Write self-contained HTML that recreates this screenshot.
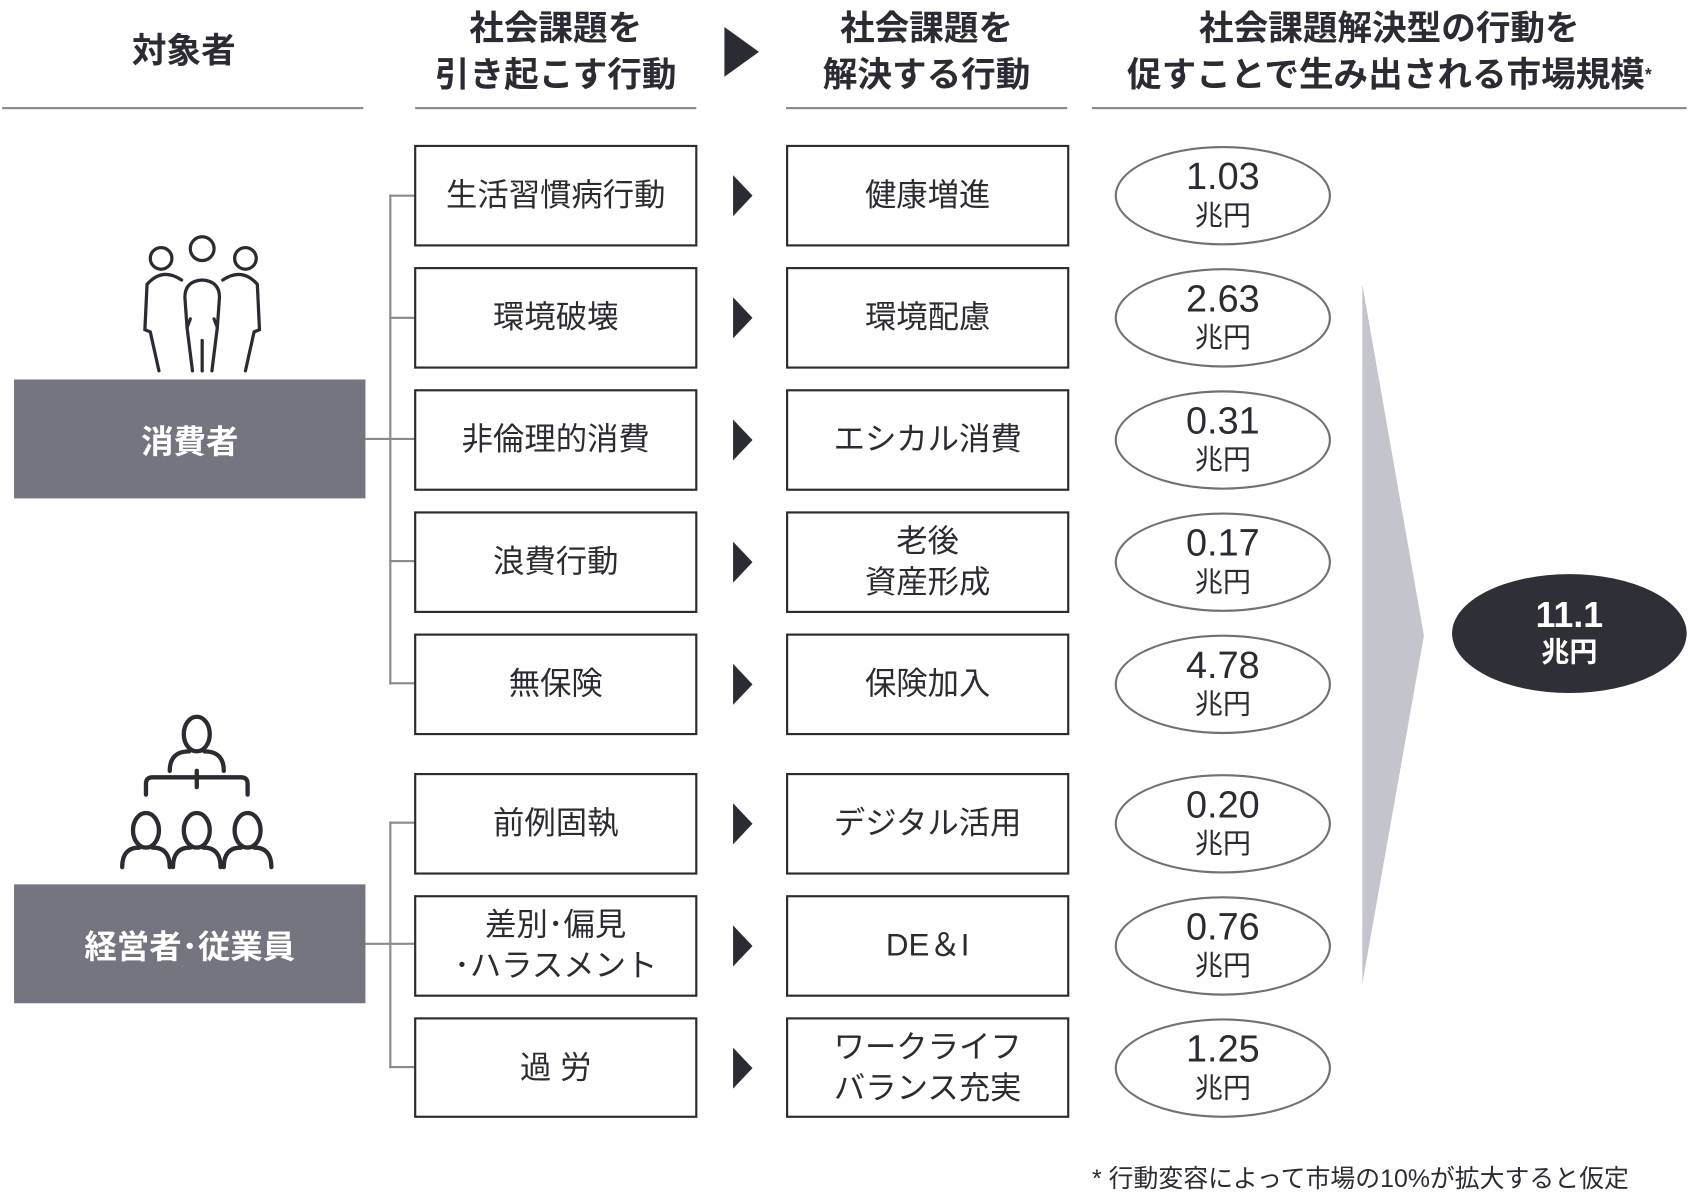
<!DOCTYPE html>
<html><head><meta charset="utf-8"><style>
html,body{margin:0;padding:0;background:#fff;}
body{width:1692px;height:1200px;overflow:hidden;position:relative;}
#w{position:absolute;left:0;top:0;width:1565px;height:1110px;transform:scale(1.0812,1.0811);transform-origin:0 0;font-family:"Liberation Sans","Noto Sans CJK JP",sans-serif;color:#2b2b33;}
.a{position:absolute;}
.h{position:absolute;text-align:center;font-weight:bold;font-size:32px;line-height:43px;color:#2b2b33;}
.ul{position:absolute;top:99px;height:2px;background:#8a8a92;}
.bx{position:absolute;box-sizing:border-box;border:2px solid #2b2b33;display:flex;align-items:center;justify-content:center;text-align:center;font-size:29px;line-height:38px;}
.el{position:absolute;box-sizing:border-box;width:200px;height:92px;border:2px solid #707078;border-radius:50%;text-align:center;}
.el .n{font-size:35px;line-height:38px;margin-top:8px;}
.el .u{font-size:26px;line-height:32px;}
.tr{position:absolute;width:0;height:0;border-top:19px solid transparent;border-bottom:19px solid transparent;border-left:18px solid #2b2b33;}
.gb{position:absolute;background:#75757f;color:#fff;font-weight:bold;font-size:30px;display:flex;align-items:center;justify-content:center;}
.ln{position:absolute;background:#8a8a92;}
</style></head><body><div id="w">
<div class="h" style="left:60px;top:26px;width:220px;">対象者</div>
<div class="h" style="left:374px;top:5px;width:280px;">社会課題を<br>引き起こす行動</div>
<div class="h" style="left:717px;top:5px;width:280px;">社会課題を<br>解決する行動</div>
<div class="h" style="left:1000px;top:5px;width:570px;">社会課題解決型の行動を<br>促すことで生み出される市場規模<span style="font-size:16px;vertical-align:top;">*</span></div>
<div class="a" style="left:670px;top:25px;width:0;height:0;border-top:23px solid transparent;border-bottom:23px solid transparent;border-left:32px solid #2b2b33;"></div>
<div class="ul" style="left:2px;width:334px;"></div>
<div class="ul" style="left:384px;width:260px;"></div>
<div class="ul" style="left:727px;width:260px;"></div>
<div class="ul" style="left:1010px;width:550px;"></div>

<svg class="a" style="left:120px;top:215px;" width="135" height="135" viewBox="0 0 135 135" fill="none" stroke="#2b2b33" stroke-width="3" stroke-linecap="round">
<circle cx="29" cy="24" r="10"/><circle cx="67" cy="15" r="11"/><circle cx="107" cy="24" r="10"/>
<path d="M48 44 Q30 32 16 48 L14 90 L19 92 L27 128"/><path d="M86 44 Q104 32 118 48 L120 90 L115 92 L107 128"/>
<path d="M58 128 L53 88 L51 60 Q51 45 67 44 Q83 45 83 60 L81 88 L76 128"/><path d="M67 100 L67 128"/><path d="M53 88 L56 80"/><path d="M81 88 L78 80"/>
</svg>
<svg class="a" style="left:100px;top:655px;" width="165" height="150" viewBox="0 0 165 150" fill="none" stroke="#2b2b33" stroke-width="4" stroke-linecap="round">
<ellipse cx="82" cy="24" rx="12" ry="16"/><path d="M57 58 Q57 40 75 40 M107 58 Q107 40 89 40"/>
<path d="M35 80 L35 70 Q35 64 41 64 L123 64 Q129 64 129 70 L129 80 M82 58 L82 73"/>
<ellipse cx="35" cy="113" rx="12" ry="16"/><path d="M13 147 Q13 129 29 129 M57 147 Q57 129 41 129"/>
<ellipse cx="82" cy="113" rx="12" ry="16"/><path d="M60 147 Q60 129 76 129 M104 147 Q104 129 88 129"/>
<ellipse cx="129" cy="113" rx="12" ry="16"/><path d="M107 147 Q107 129 123 129 M151 147 Q151 129 135 129"/>
</svg>

<div class="gb" style="left:13px;top:351px;width:325px;height:110px;">消費者</div>
<div class="gb" style="left:13px;top:818px;width:325px;height:110px;">経営者･従業員</div>

<div class="ln" style="left:360px;top:180px;width:2px;height:453px;"></div>
<div class="ln" style="left:338px;top:405px;width:23px;height:2px;"></div>
<div class="ln" style="left:360px;top:180px;width:24px;height:2px;"></div>
<div class="ln" style="left:360px;top:293px;width:24px;height:2px;"></div>
<div class="ln" style="left:360px;top:405px;width:24px;height:2px;"></div>
<div class="ln" style="left:360px;top:518px;width:24px;height:2px;"></div>
<div class="ln" style="left:360px;top:631px;width:24px;height:2px;"></div>
<div class="ln" style="left:360px;top:760px;width:2px;height:228px;"></div>
<div class="ln" style="left:338px;top:872px;width:23px;height:2px;"></div>
<div class="ln" style="left:360px;top:760px;width:24px;height:2px;"></div>
<div class="ln" style="left:360px;top:872px;width:24px;height:2px;"></div>
<div class="ln" style="left:360px;top:986px;width:24px;height:2px;"></div>

<div class="bx" style="left:383px;top:134px;width:262px;height:94px;">生活習慣病行動</div>
<div class="bx" style="left:383px;top:247px;width:262px;height:94px;">環境破壊</div>
<div class="bx" style="left:383px;top:360px;width:262px;height:94px;">非倫理的消費</div>
<div class="bx" style="left:383px;top:473px;width:262px;height:94px;">浪費行動</div>
<div class="bx" style="left:383px;top:586px;width:262px;height:94px;">無保険</div>
<div class="bx" style="left:383px;top:715px;width:262px;height:94px;">前例固執</div>
<div class="bx" style="left:383px;top:828px;width:262px;height:94px;">差別･偏見<br>･ハラスメント</div>
<div class="bx" style="left:383px;top:941px;width:262px;height:93px;">過 労</div>

<div class="tr" style="left:678px;top:162px;"></div>
<div class="tr" style="left:678px;top:275px;"></div>
<div class="tr" style="left:678px;top:388px;"></div>
<div class="tr" style="left:678px;top:501px;"></div>
<div class="tr" style="left:678px;top:614px;"></div>
<div class="tr" style="left:678px;top:743px;"></div>
<div class="tr" style="left:678px;top:856px;"></div>
<div class="tr" style="left:678px;top:969px;"></div>

<div class="bx" style="left:727px;top:134px;width:262px;height:94px;">健康増進</div>
<div class="bx" style="left:727px;top:247px;width:262px;height:94px;">環境配慮</div>
<div class="bx" style="left:727px;top:360px;width:262px;height:94px;">エシカル消費</div>
<div class="bx" style="left:727px;top:473px;width:262px;height:94px;">老後<br>資産形成</div>
<div class="bx" style="left:727px;top:586px;width:262px;height:94px;">保険加入</div>
<div class="bx" style="left:727px;top:715px;width:262px;height:94px;">デジタル活用</div>
<div class="bx" style="left:727px;top:828px;width:262px;height:94px;">DE＆I</div>
<div class="bx" style="left:727px;top:941px;width:262px;height:93px;">ワークライフ<br>バランス充実</div>

<div class="el" style="left:1031px;top:135px;"><div class="n">1.03</div><div class="u">兆円</div></div>
<div class="el" style="left:1031px;top:248px;"><div class="n">2.63</div><div class="u">兆円</div></div>
<div class="el" style="left:1031px;top:361px;"><div class="n">0.31</div><div class="u">兆円</div></div>
<div class="el" style="left:1031px;top:474px;"><div class="n">0.17</div><div class="u">兆円</div></div>
<div class="el" style="left:1031px;top:587px;"><div class="n">4.78</div><div class="u">兆円</div></div>
<div class="el" style="left:1031px;top:716px;"><div class="n">0.20</div><div class="u">兆円</div></div>
<div class="el" style="left:1031px;top:829px;"><div class="n">0.76</div><div class="u">兆円</div></div>
<div class="el" style="left:1031px;top:942px;"><div class="n">1.25</div><div class="u">兆円</div></div>

<svg class="a" style="left:1255px;top:255px;" width="70" height="665"><polygon points="5,8 62,333 5,655" fill="#c4c4cc"/></svg>
<div class="a" style="left:1343px;top:531px;width:217px;height:110px;border-radius:50%;background:#2f2f37;color:#fff;text-align:center;font-weight:bold;">
<div style="font-size:33px;line-height:36px;margin-top:20px;">11.1</div><div style="font-size:26px;line-height:32px;">兆円</div></div>

<div class="a" style="left:1010px;top:1075px;font-size:23px;line-height:30px;color:#2b2b33;">* 行動変容によって市場の10%が拡大すると仮定</div>
</div></body></html>
